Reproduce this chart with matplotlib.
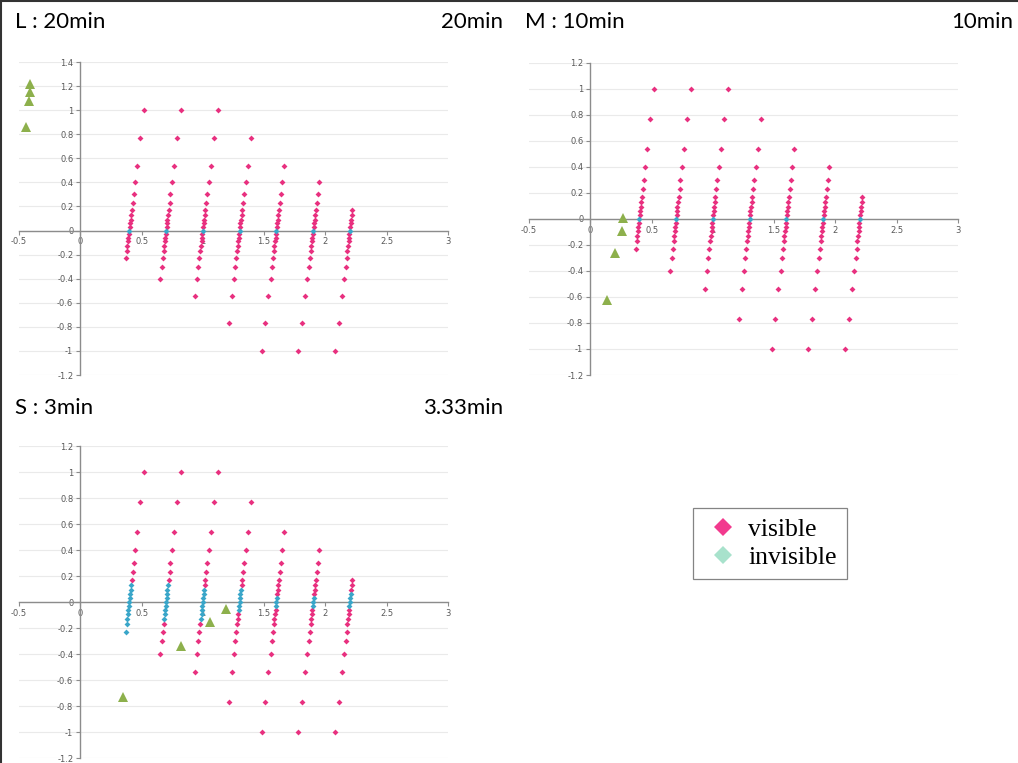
import matplotlib
matplotlib.use("Agg")
import matplotlib.pyplot as plt
from matplotlib.lines import Line2D
from matplotlib.ticker import MultipleLocator, FormatStrFormatter

# y levels of the rays (same in every panel) and the lean of each column at that level
levels = [1.0, 0.77, 0.54, 0.40, 0.30, 0.23, 0.17, 0.13, 0.09, 0.06, 0.03, 0.0,
          -0.03, -0.06, -0.09, -0.13, -0.17, -0.23, -0.30, -0.40, -0.54, -0.77, -1.0]
lean = [0.12, 0.09, 0.065, 0.048, 0.036, 0.028, 0.02, 0.016, 0.011, 0.007, 0.004, 0.0,
        -0.004, -0.007, -0.011, -0.016, -0.02, -0.028, -0.036, -0.048, -0.065, -0.09, -0.12]

# columns: x where they cross 0, highest and lowest level used
col_x = [0.4, 0.7, 1.0, 1.3, 1.6, 1.9, 2.2]
col_top = [1.0, 1.0, 1.0, 0.77, 0.54, 0.40, 0.17]
col_bottom = [-0.23, -0.40, -0.54, -0.77, -1.0, -1.0, -1.0]

# invisible part of each column (top, bottom)
inv_top_L = [0, 0, 0, 0, 0, 0, 0]
inv_bot_L = [0, 0, 0, 0, 0, 0, 0]
inv_top_M = [0, 0, 0, 0, 0, 0, 0]
inv_bot_M = [0, 0, 0, 0, 0, 0, 0]
inv_top_S = [0.13, 0.13, 0.09, 0.09, 0.03, 0.03, 0.06]
inv_bot_S = [-0.23, -0.13, -0.13, -0.06, -0.03, -0.03, -0.03]

# green triangles
tri_L_x = [-0.41, -0.41, -0.42, -0.44]
tri_L_y = [1.22, 1.15, 1.08, 0.86]
tri_M_x = [0.27, 0.255, 0.20, 0.14]
tri_M_y = [0.01, -0.09, -0.26, -0.62]
tri_S_x = [1.19, 1.055, 0.825, 0.35]
tri_S_y = [-0.05, -0.15, -0.34, -0.73]

PINK = "#E8307F"
CYAN = "#3AA6C9"
GREEN = "#8DB04C"

fig = plt.figure(figsize=(10.18, 7.63), dpi=100)
W, H = 1018, 763


def make_ax(x0, x1, y0, y1):
    return fig.add_axes([x0 / W, 1 - y1 / H, (x1 - x0) / W, (y1 - y0) / H])


def draw(ax, ymax, inv_top, inv_bot, tx, ty):
    vx, vy, ix, iy = [], [], [], []
    for c in range(len(col_x)):
        for lv, dx in zip(levels, lean):
            if lv > col_top[c] + 1e-9 or lv < col_bottom[c] - 1e-9:
                continue
            if inv_bot[c] - 1e-9 <= lv <= inv_top[c] + 1e-9:
                ix.append(col_x[c] + dx)
                iy.append(lv)
            else:
                vx.append(col_x[c] + dx)
                vy.append(lv)
    ax.plot(vx, vy, "D", color=PINK, ms=3, mew=0, zorder=4)
    ax.plot(ix, iy, "D", color=CYAN, ms=3, mew=0, zorder=4)
    ax.plot(tx, ty, "^", color=GREEN, ms=6.5, mew=0, zorder=5)

    ax.set_xlim(-0.5, 3)
    ax.set_ylim(-1.2, ymax)
    ax.patch.set_alpha(0)
    for s in ["top", "right"]:
        ax.spines[s].set_visible(False)
    ax.spines["left"].set_position(("data", 0))
    ax.spines["bottom"].set_position(("data", 0))
    for s in ["left", "bottom"]:
        ax.spines[s].set_color("#8C8C8C")
        ax.spines[s].set_linewidth(1.0)
        ax.spines[s].set_zorder(2)
    ax.xaxis.set_major_locator(MultipleLocator(0.5))
    ax.yaxis.set_major_locator(MultipleLocator(0.2))
    ax.xaxis.set_major_formatter(FormatStrFormatter("%g"))
    ax.yaxis.set_major_formatter(FormatStrFormatter("%g"))
    ax.tick_params(direction="out", length=3, width=0.8, color="#8C8C8C",
                   labelsize=6, labelcolor="#595959", pad=2)
    ax.yaxis.grid(True, color="#EAEAEA", linewidth=0.8, zorder=0)
    ax.xaxis.grid(False)
    ax.set_axisbelow(True)


axL = make_ax(19, 448, 62, 375)
draw(axL, 1.4, inv_top_L, inv_bot_L, tri_L_x, tri_L_y)
axM = make_ax(529, 958, 62.7, 375)
draw(axM, 1.2, inv_top_M, inv_bot_M, tri_M_x, tri_M_y)
axS = make_ax(19, 448, 446, 758)
draw(axS, 1.2, inv_top_S, inv_bot_S, tri_S_x, tri_S_y)

title_font = dict(fontsize=16, family=["Lato", "DejaVu Sans"], color="black")
fig.text(15 / W, 1 - 22 / H, "L : 20min", ha="left", va="center", **title_font)
fig.text(503 / W, 1 - 22 / H, "20min", ha="right", va="center", **title_font)
fig.text(525 / W, 1 - 22 / H, "M : 10min", ha="left", va="center", **title_font)
fig.text(1013 / W, 1 - 22 / H, "10min", ha="right", va="center", **title_font)
fig.text(15 / W, 1 - 408 / H, "S : 3min", ha="left", va="center", **title_font)
fig.text(503 / W, 1 - 408 / H, "3.33min", ha="right", va="center", **title_font)

# frame lines at top and left
fig.add_artist(Line2D([0, 1], [1 - 1 / H, 1 - 1 / H], color="#333333", lw=1.5))
fig.add_artist(Line2D([1 / W, 1 / W], [0, 1], color="#333333", lw=1.5))

handles = [
    Line2D([], [], ls="none", marker="D", ms=9, mew=0, color="#F23A8E"),
    Line2D([], [], ls="none", marker="D", ms=9, mew=0, color="#A8E2CC"),
]
leg = fig.legend(handles, ["visible", "invisible"], loc="upper left",
                 bbox_to_anchor=(693 / W, 1 - 508 / H),
                 prop={"family": "Liberation Serif", "size": 18.5},
                 frameon=True, fancybox=False, edgecolor="#666666",
                 handlelength=1.5, handletextpad=0.25, labelspacing=0.18,
                 borderpad=0.4, borderaxespad=0)
leg.get_frame().set_linewidth(0.9)

fig.savefig("out.png", dpi=100)
